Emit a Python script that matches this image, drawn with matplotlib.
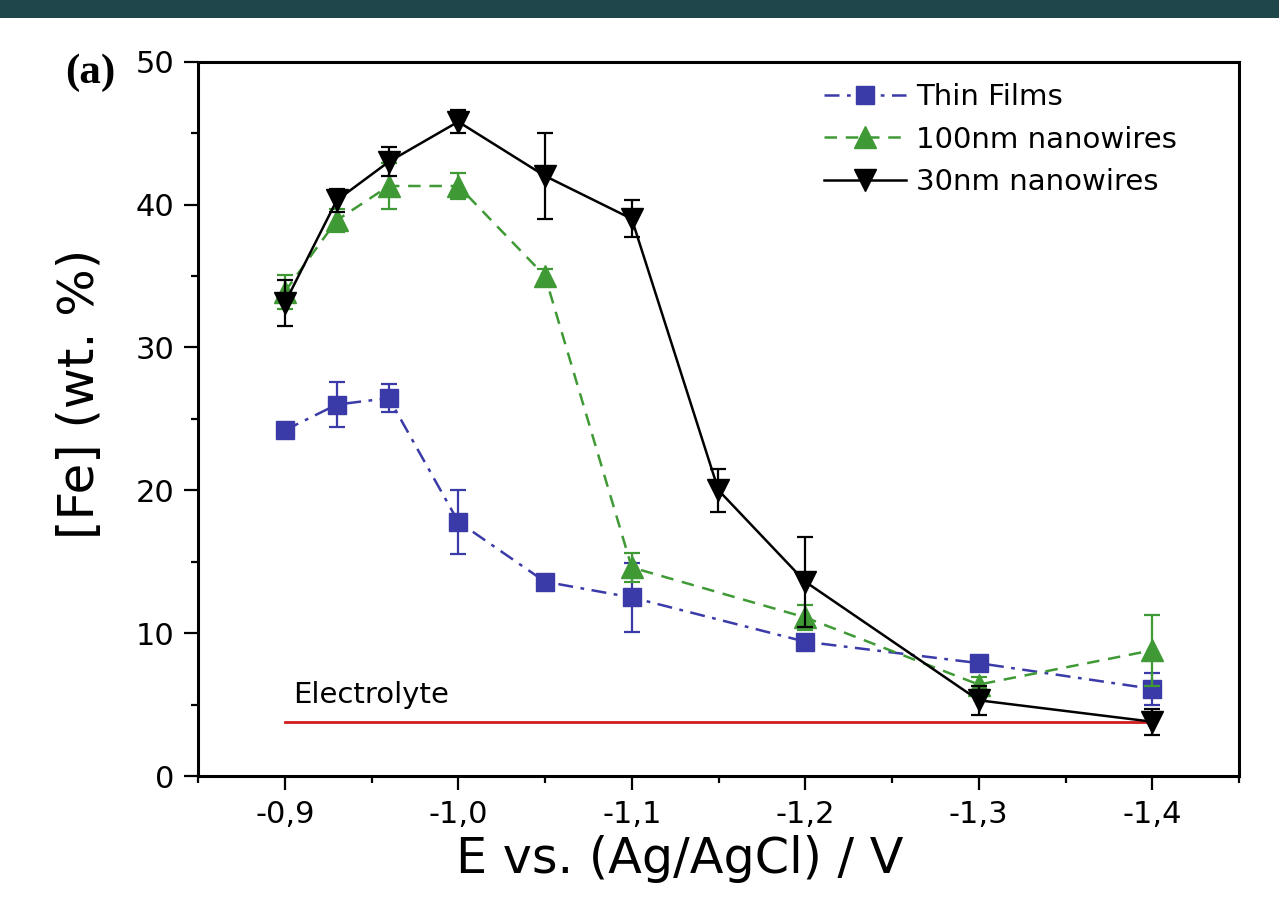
import matplotlib
matplotlib.use("Agg")
import matplotlib.pyplot as plt
from matplotlib.ticker import MultipleLocator, FuncFormatter
from matplotlib.patches import Rectangle
from matplotlib.lines import Line2D

# ---- data ----
E_thin = [-0.9, -0.93, -0.96, -1.0, -1.05, -1.1, -1.2, -1.3, -1.4]
Fe_thin = [24.2, 26.0, 26.45, 17.8, 13.6, 12.5, 9.4, 7.9, 6.1]
err_thin = [0.3, 1.55, 1.0, 2.25, 0.3, 2.4, 0.3, 0.5, 1.1]

E_100 = [-0.9, -0.93, -0.96, -1.0, -1.05, -1.1, -1.2, -1.3, -1.4]
Fe_100 = [33.9, 38.9, 41.3, 41.3, 35.0, 14.6, 11.1, 6.4, 8.8]
err_100 = [1.2, 0.8, 1.6, 0.9, 0.5, 1.0, 0.9, 0.5, 2.5]

E_30 = [-0.9, -0.93, -0.96, -1.0, -1.05, -1.1, -1.15, -1.2, -1.3, -1.4]
Fe_30 = [33.1, 40.3, 43.0, 45.8, 42.0, 39.0, 20.0, 13.6, 5.3, 3.8]
err_30 = [1.6, 0.8, 1.0, 0.8, 3.0, 1.3, 1.5, 3.15, 1.0, 0.9]

electrolyte_E = [-0.9, -1.4]
electrolyte_Fe = [3.8, 3.8]

labels = ["Thin Films", "100nm nanowires", "30nm nanowires"]

c_blue = "#3a3aa8"
c_green = "#3f9a35"
c_black = "#000000"
c_red = "#d01c1c"

plt.rcParams["font.family"] = ["DejaVu Sans"]

fig = plt.figure(figsize=(12.79, 9.01), dpi=100)
fig.patch.set_facecolor("white")
ax = fig.add_axes([198/1279, 1-776/901, (1239-198)/1279, (776-61.7)/901])

# top banner
fig.patches.append(Rectangle((0, 1-18/901), 1, 18/901, transform=fig.transFigure,
                             facecolor="#1f474b", edgecolor="none", zorder=0))

styles = [
    dict(color=c_blue, marker="s", markersize=13, linestyle=(0, (6, 3, 1.5, 3)), linewidth=1.8),
    dict(color=c_green, marker="^", markersize=16, linestyle=(0, (5, 3.5)), linewidth=1.8),
    dict(color=c_black, marker="v", markersize=16, linestyle="-", linewidth=1.8),
]

ekw = dict(capsize=6, elinewidth=1.6, capthick=1.6)
ax.errorbar(E_thin, Fe_thin, yerr=err_thin, zorder=3, **styles[0], **ekw)
ax.errorbar(E_100, Fe_100, yerr=err_100, zorder=4, **styles[1], **ekw)
ax.errorbar(E_30, Fe_30, yerr=err_30, zorder=5, **styles[2], **ekw)

ax.plot(electrolyte_E, electrolyte_Fe, color=c_red, linewidth=2, zorder=2)
ax.text(-0.9046, 5.1, "Electrolyte", fontsize=21, ha="left", va="baseline")

ax.set_xlim(-0.85, -1.45)
ax.set_ylim(0, 50)
ax.xaxis.set_major_locator(MultipleLocator(0.1))
ax.xaxis.set_minor_locator(MultipleLocator(0.05))
ax.yaxis.set_major_locator(MultipleLocator(10))
ax.yaxis.set_minor_locator(MultipleLocator(5))
ax.xaxis.set_major_formatter(FuncFormatter(lambda v, p: f"{v:.1f}".replace(".", ",")))
ax.yaxis.set_major_formatter(FuncFormatter(lambda v, p: f"{v:.0f}"))

for s in ax.spines.values():
    s.set_linewidth(2.2)
ax.tick_params(which="major", direction="out", length=10, width=1.6, labelsize=22, pad=7)
ax.tick_params(which="minor", direction="out", length=5, width=1.6)
ax.tick_params(top=False, right=False, which="both")

ax.set_xlabel("E vs. (Ag/AgCl) / V", fontsize=35.5)
ax.set_ylabel("[Fe] (wt. %)", fontsize=36)
ax.xaxis.set_label_coords(0.463, -0.083)
ax.yaxis.set_label_coords(-0.090, 0.535)

handles = [Line2D([], [], **st) for st in styles]
leg = ax.legend(handles, labels, loc="upper left", bbox_to_anchor=(824/1279, 1-83/901),
                bbox_transform=fig.transFigure, frameon=False, fontsize=21,
                handlelength=2.8, handletextpad=0.35, labelspacing=0.5,
                borderpad=0, borderaxespad=0)

fig.text(65/1279, 1-83/901, "(a)", fontsize=31, fontweight="bold",
         family=["Liberation Serif"], ha="left", va="baseline")

fig.savefig("out.png", dpi=100)
